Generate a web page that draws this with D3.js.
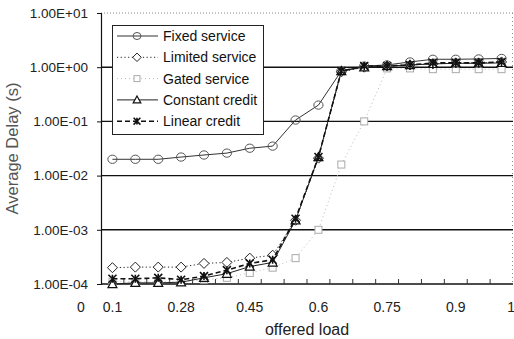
<!DOCTYPE html>
<html>
<head>
<meta charset="utf-8">
<script src="https://cdn.jsdelivr.net/npm/d3@7"></script>
<style>
  html, body { margin: 0; padding: 0; background: #fff; }
  svg { display: block; font-family: "Liberation Sans", Arial, sans-serif; }
</style>
</head>
<body>
<svg id="chart" width="514" height="339"></svg>
<script>
// Offered-load categories (only every third one carries a label)
const loadLabels = ["0.1", "", "", "0.28", "", "", "0.45", "", "", "0.6", "", "", "0.75", "", "", "0.9", "", ""];
const axisEndLabels = ["0", "1"];

// Average delay (s) per scheduling scheme
const fixedService   = [0.020, 0.020, 0.020, 0.022, 0.024, 0.026, 0.032, 0.035, 0.106, 0.20, 0.85, 1.05, 1.10, 1.25, 1.40, 1.40, 1.42, 1.45];
const limitedService = [2.0e-4, 2.05e-4, 2.05e-4, 2.05e-4, 2.4e-4, 2.5e-4, 3.0e-4, 3.4e-4, 1.5e-3, 0.021, 0.82, 1.00, 1.05, 1.10, 1.15, 1.20, 1.20, 1.25];
const gatedService   = [1.1e-4, 1.1e-4, 1.1e-4, 1.1e-4, 1.2e-4, 1.3e-4, 1.6e-4, 2.0e-4, 3.0e-4, 1.0e-3, 0.016, 0.10, 0.95, 0.95, 0.92, 0.92, 0.92, 0.92];
const constantCredit = [1.0e-4, 1.05e-4, 1.05e-4, 1.08e-4, 1.3e-4, 1.55e-4, 2.1e-4, 2.5e-4, 1.5e-3, 0.022, 0.85, 1.00, 1.05, 1.10, 1.15, 1.18, 1.18, 1.20];
const linearCredit   = [1.25e-4, 1.25e-4, 1.3e-4, 1.2e-4, 1.4e-4, 1.8e-4, 2.4e-4, 2.8e-4, 1.6e-3, 0.022, 0.85, 1.05, 1.05, 1.10, 1.20, 1.20, 1.20, 1.25];

const seriesNames = ["Fixed service", "Limited service", "Gated service", "Constant credit", "Linear credit"];

// Y axis ticks
const yTicks = [1e-4, 1e-3, 1e-2, 1e-1, 1, 10];
const yTickLabels = ["1.00E-04", "1.00E-03", "1.00E-02", "1.00E-01", "1.00E+00", "1.00E+01"];

const svg = d3.select("#chart");
const plot = { left: 101, right: 513, top: 13, bottom: 284 };

const x = d3.scaleBand()
  .domain(d3.range(loadLabels.length))
  .range([plot.left, plot.right])
  .padding(0);
const cx = i => x(i) + x.bandwidth() / 2;

const y = d3.scaleLog()
  .domain([1e-4, 10])
  .range([plot.bottom, plot.top]);

// Plot frame: dotted top and right edges
svg.append("line")
  .attr("x1", plot.left).attr("x2", plot.right)
  .attr("y1", y(10)).attr("y2", y(10))
  .attr("stroke", "#888").attr("stroke-width", 1).attr("stroke-dasharray", "1,2");
svg.append("line")
  .attr("x1", plot.right - 0.5).attr("x2", plot.right - 0.5)
  .attr("y1", plot.top).attr("y2", plot.bottom)
  .attr("stroke", "#888").attr("stroke-width", 1).attr("stroke-dasharray", "1,3");

// Horizontal gridlines
svg.append("g")
  .selectAll("line")
  .data(yTicks.filter(d => d > 1e-4 && d < 10))
  .join("line")
  .attr("x1", plot.left).attr("x2", plot.right)
  .attr("y1", d => y(d)).attr("y2", d => y(d))
  .attr("stroke", "#111").attr("stroke-width", 1.4);

// Y axis
const yAxis = svg.append("g")
  .attr("transform", `translate(${plot.left},0)`)
  .call(d3.axisLeft(y)
    .tickValues(yTicks)
    .tickFormat((d, i) => yTickLabels[i])
    .tickSize(4)
    .tickPadding(9));
yAxis.select(".domain").attr("stroke", "#111").attr("stroke-width", 1.2);
yAxis.selectAll(".tick line").attr("stroke", "#111");
yAxis.selectAll(".tick text")
  .attr("font-size", 13.5)
  .attr("fill", "#222")
  .style("font-family", "\"Liberation Sans\", Arial, sans-serif");

// X axis: baseline with inward ticks between categories
svg.append("line")
  .attr("x1", plot.left).attr("x2", plot.right)
  .attr("y1", plot.bottom).attr("y2", plot.bottom)
  .attr("stroke", "#111").attr("stroke-width", 1.4);
svg.append("g")
  .selectAll("line")
  .data(d3.range(1, loadLabels.length))
  .join("line")
  .attr("x1", i => x(i)).attr("x2", i => x(i))
  .attr("y1", plot.bottom).attr("y2", plot.bottom - 5)
  .attr("stroke", "#333").attr("stroke-width", 1);

svg.append("g")
  .selectAll("text")
  .data(loadLabels.map((t, i) => ({ t, i })).filter(d => d.t !== ""))
  .join("text")
  .attr("x", d => cx(d.i))
  .attr("y", 312)
  .attr("text-anchor", "middle")
  .attr("font-size", 14)
  .attr("fill", "#222")
  .text(d => d.t);

svg.append("text")
  .attr("x", plot.left - 20).attr("y", 312)
  .attr("text-anchor", "middle")
  .attr("font-size", 14).attr("fill", "#222")
  .text(axisEndLabels[0]);
svg.append("text")
  .attr("x", plot.right + 2).attr("y", 312)
  .attr("text-anchor", "end")
  .attr("font-size", 14).attr("fill", "#222")
  .text(axisEndLabels[1]);

// Axis titles
svg.append("text")
  .attr("x", (plot.left + plot.right) / 2)
  .attr("y", 335)
  .attr("text-anchor", "middle")
  .attr("font-size", 16).attr("fill", "#222")
  .text("offered load");
svg.append("text")
  .attr("transform", `translate(18,${(plot.top + plot.bottom) / 2}) rotate(-90)`)
  .attr("text-anchor", "middle")
  .attr("font-size", 16.5).attr("fill", "#555")
  .text("Average Delay (s)");

// Series styles
const styles = [
  { values: fixedService,   stroke: "#333", width: 1,   dash: null,  marker: "circle",   mstroke: "#555", fill: "none", size: 4.6 },
  { values: limitedService, stroke: "#222", width: 1,   dash: "1.2,2.5", marker: "diamond", mstroke: "#222", fill: "#fff", size: 5 },
  { values: gatedService,   stroke: "#bbb", width: 1,   dash: "1,3", marker: "square",   mstroke: "#aaa", fill: "#fff", size: 3.5 },
  { values: constantCredit, stroke: "#222", width: 1,   dash: null,  marker: "triangle", mstroke: "#111", fill: "#fff", size: 4.5 },
  { values: linearCredit,   stroke: "#111", width: 1.6, dash: "5,3", marker: "cross",    mstroke: "#111", fill: "none", size: 4 }
];

function drawMarker(g, type, px, py, s, stroke, fill) {
  if (type === "circle") {
    g.append("ellipse").attr("cx", px).attr("cy", py).attr("rx", s).attr("ry", s * 0.9)
      .attr("fill", fill).attr("stroke", stroke).attr("stroke-width", 1);
  } else if (type === "diamond") {
    g.append("path")
      .attr("d", `M${px},${py - s}L${px + s},${py}L${px},${py + s}L${px - s},${py}Z`)
      .attr("fill", fill).attr("stroke", stroke).attr("stroke-width", 1);
  } else if (type === "square") {
    g.append("rect").attr("x", px - s).attr("y", py - s).attr("width", 2 * s).attr("height", 2 * s)
      .attr("fill", fill).attr("stroke", stroke).attr("stroke-width", 1);
  } else if (type === "triangle") {
    g.append("path")
      .attr("d", `M${px},${py - s}L${px + s},${py + s * 0.8}L${px - s},${py + s * 0.8}Z`)
      .attr("fill", fill).attr("stroke", stroke).attr("stroke-width", 1.2);
  } else if (type === "cross") {
    g.append("path")
      .attr("d", `M${px - s},${py - s}L${px + s},${py + s}M${px - s},${py + s}L${px + s},${py - s}M${px},${py - s}L${px},${py + s}`)
      .attr("fill", "none").attr("stroke", stroke).attr("stroke-width", 1.6);
  }
}

const line = d3.line().x((d, i) => cx(i)).y(d => y(d));

// Draw order keeps the light gated series underneath
const drawOrder = [2, 1, 0, 3, 4];
const seriesLayer = svg.append("g");
drawOrder.forEach(k => {
  const st = styles[k];
  const g = seriesLayer.append("g");
  g.append("path")
    .datum(st.values)
    .attr("d", line)
    .attr("fill", "none")
    .attr("stroke", st.stroke)
    .attr("stroke-width", st.width)
    .attr("stroke-dasharray", st.dash);
  st.values.forEach((v, i) => drawMarker(g, st.marker, cx(i), y(v), st.size, st.mstroke, st.fill));
});

// Legend
const legend = { x: 112, y: 25, w: 151, h: 109, row: 21.3, first: 11 };
const lg = svg.append("g");
lg.append("rect")
  .attr("x", legend.x + 0.5).attr("y", legend.y + 0.5)
  .attr("width", legend.w).attr("height", legend.h)
  .attr("fill", "#fff").attr("stroke", "#222").attr("stroke-width", 1);
seriesNames.forEach((name, k) => {
  const st = styles[k];
  const ry = legend.y + legend.first + k * legend.row;
  lg.append("line")
    .attr("x1", legend.x + 5).attr("x2", legend.x + 46)
    .attr("y1", ry).attr("y2", ry)
    .attr("stroke", st.stroke).attr("stroke-width", st.width)
    .attr("stroke-dasharray", st.dash);
  drawMarker(lg, st.marker, legend.x + 25, ry, st.size * 0.85, st.mstroke, st.fill);
  lg.append("text")
    .attr("x", legend.x + 51).attr("y", ry)
    .attr("dy", "0.36em")
    .attr("font-size", 14).attr("fill", "#111")
    .text(name);
});
</script>
</body>
</html>
